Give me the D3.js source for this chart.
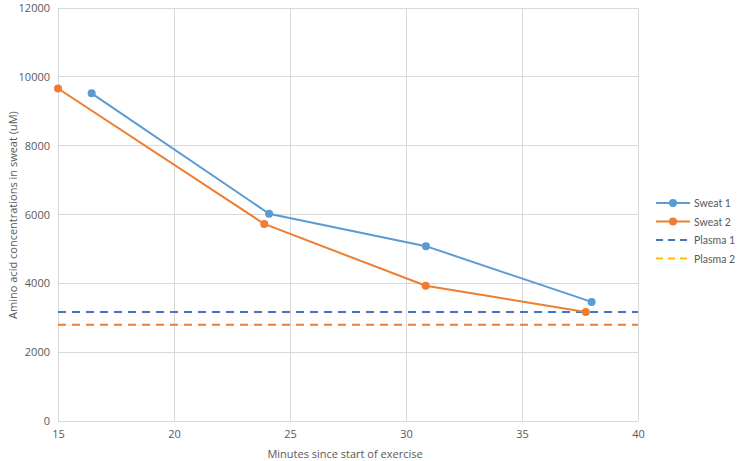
<!DOCTYPE html>
<html><head><meta charset="utf-8">
<script src="https://cdn.jsdelivr.net/npm/d3@7"></script>
<style>body{margin:0;background:#fff}svg{display:block;font-family:"Open Sans",sans-serif}</style>
</head><body><svg id="c" width="738" height="461"></svg>
<script>
const sweat1X = [16.45, 24.1, 30.86, 38.0];
const sweat1Y = [9520, 6020, 5080, 3460];
const sweat2X = [15, 23.89, 30.85, 37.75];
const sweat2Y = [9660, 5725, 3930, 3170];
const plasma1 = 3170;
const plasma2 = 2800;
const xTicks = [15, 20, 25, 30, 35, 40];
const yTicks = [0, 2000, 4000, 6000, 8000, 10000, 12000];
const legendNames = ["Sweat 1", "Sweat 2", "Plasma 1", "Plasma 2"];

const svg = d3.select("#c");
const x = d3.scaleLinear().domain([15, 40]).range([58, 638]);
const y = d3.scaleLinear().domain([0, 12000]).range([421, 8]);
const grid = "#D9D9D9", txt = "#595959";

svg.append("g").selectAll("line").data(yTicks).join("line")
  .attr("x1", 58).attr("x2", 638).attr("y1", d => y(d)).attr("y2", d => y(d))
  .attr("stroke", grid).attr("stroke-width", 1).attr("shape-rendering", "crispEdges");
svg.append("g").selectAll("line").data(xTicks).join("line")
  .attr("x1", d => x(d)).attr("x2", d => x(d)).attr("y1", 8).attr("y2", 421)
  .attr("stroke", grid).attr("stroke-width", 1).attr("shape-rendering", "crispEdges");

const ya = svg.append("g").attr("transform", "translate(58,0)")
  .call(d3.axisLeft(y).tickValues(yTicks).tickSize(0).tickPadding(8).tickFormat(d3.format("d")));
ya.select(".domain").remove();
ya.selectAll("text").attr("fill", txt).style("font-size", "11px").style("font-family", "Open Sans");
const xa = svg.append("g").attr("transform", "translate(0,421)")
  .call(d3.axisBottom(x).tickValues(xTicks).tickSize(0).tickPadding(9));
xa.select(".domain").remove();
xa.selectAll("text").attr("fill", txt).style("font-size", "11px").style("font-family", "Open Sans");

svg.append("text").attr("x", 345).attr("y", 458).attr("text-anchor", "middle")
  .attr("fill", txt).style("font-size", "11px").text("Minutes since start of exercise");
svg.append("text").attr("transform", "translate(17,215) rotate(-90)").attr("text-anchor", "middle")
  .attr("fill", txt).style("font-size", "11px").text("Amino acid concentrations in sweat (uM)");

// plasma lines
svg.append("line").attr("x1", x(15)).attr("x2", x(40)).attr("y1", y(plasma1)).attr("y2", y(plasma1))
  .attr("stroke", "#4472C4").attr("stroke-width", 2).attr("stroke-dasharray", "8,6");
svg.append("line").attr("x1", x(15)).attr("x2", x(40)).attr("y1", y(plasma2)).attr("y2", y(plasma2))
  .attr("stroke", "#ED7D31").attr("stroke-width", 2).attr("stroke-dasharray", "8,6");

const line = d3.line().x(d => x(d[0])).y(d => y(d[1]));
function series(xs, ys, color) {
  const pts = xs.map((v, i) => [v, ys[i]]);
  svg.append("path").datum(pts).attr("d", line).attr("fill", "none").attr("stroke", color).attr("stroke-width", 2);
  svg.append("g").selectAll("circle").data(pts).join("circle")
    .attr("cx", d => x(d[0])).attr("cy", d => y(d[1])).attr("r", 4).attr("fill", color);
}
series(sweat2X, sweat2Y, "#ED7D31");
series(sweat1X, sweat1Y, "#5B9BD5");

// legend
const lColors = ["#5B9BD5", "#ED7D31", "#4472C4", "#FFC000"];
const lg = svg.append("g");
legendNames.forEach((n, i) => {
  const yy = 203 + i * 18.5;
  const g = lg.append("g");
  if (i < 2) {
    g.append("line").attr("x1", 656).attr("x2", 690).attr("y1", yy).attr("y2", yy).attr("stroke", lColors[i]).attr("stroke-width", 2);
    g.append("circle").attr("cx", 673).attr("cy", yy).attr("r", 4).attr("fill", lColors[i]);
  } else {
    g.append("line").attr("x1", 656).attr("x2", 692).attr("y1", yy).attr("y2", yy).attr("stroke", lColors[i]).attr("stroke-width", 2).attr("stroke-dasharray", "7,5");
  }
  g.append("text").attr("x", 694).attr("y", yy + 4).attr("fill", txt)
    .style("font-size", "10.5px").style("font-family", "Lato").text(n);
});
</script></body></html>
